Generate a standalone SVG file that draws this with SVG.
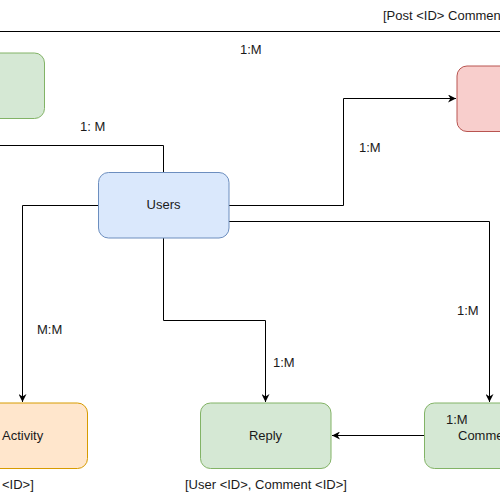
<svg xmlns="http://www.w3.org/2000/svg" width="500" height="500" viewBox="0 0 500 500">
<defs>
<marker id="arr" viewBox="0 0 10 10" refX="10" refY="5" markerWidth="8" markerHeight="8" markerUnits="userSpaceOnUse" orient="auto">
<path d="M0,0 L10,5 L0,10 L3,5 Z" fill="#000"/>
</marker>
<style>
text{font-family:"Liberation Sans",Arial,sans-serif;font-size:13px;fill:#1a1a1a}
.c{text-anchor:middle}
.e{fill:none;stroke:#000;stroke-width:1}
.a{marker-end:url(#arr)}
.g{fill:#d5e8d4;stroke:#82b366}
.b{fill:#dae8fc;stroke:#6c8ebf}
.r{fill:#f8cecc;stroke:#b85450}
.o{fill:#ffe6cc;stroke:#d79b00}
</style>
</defs>
<rect width="500" height="500" fill="#fff"/>
<g id="connectors">
<line class="e" x1="0" y1="31.5" x2="500" y2="31.5"/>
<polyline class="e" points="0,145.5 163.5,145.5 163.5,172"/>
<polyline class="e a" points="98,205.5 22.5,205.5 22.5,402"/>
<polyline class="e a" points="229,205.5 343.5,205.5 343.5,98.5 456,98.5"/>
<polyline class="e a" points="229,221.5 489.5,221.5 489.5,402"/>
<polyline class="e a" points="163.5,238 163.5,320.5 265.5,320.5 265.5,402"/>
<line class="e a" x1="424" y1="435.5" x2="332" y2="435.5"/>
</g>
<g id="labels">
<text x="383" y="20">[Post &lt;ID&gt; Comment &lt;ID&gt;]</text>
<text x="240" y="54">1:M</text>
<text x="80" y="131">1: M</text>
<text x="359" y="152">1:M</text>
<text x="457" y="315">1:M</text>
<text x="37" y="334">M:M</text>
<text x="273" y="367">1:M</text>
<text x="2" y="489">&lt;ID&gt;]</text>
<text x="185" y="489">[User &lt;ID&gt;, Comment &lt;ID&gt;]</text>
</g>
<g id="node-top-green"><rect class="g" x="-86" y="53" width="130.5" height="65.5" rx="10"/></g>
<g id="node-red"><rect class="r" x="457" y="66" width="130" height="65.5" rx="10"/></g>
<g id="node-users"><rect class="b" x="98.5" y="172.5" width="130.5" height="65.5" rx="10"/><text class="c" x="163.5" y="209">Users</text></g>
<g id="node-activity"><rect class="o" x="-43" y="403" width="130.5" height="65.5" rx="10"/><text x="2" y="440">Activity</text></g>
<g id="node-reply"><rect class="g" x="200.5" y="403" width="130.5" height="65.5" rx="10"/><text class="c" x="265.5" y="440">Reply</text></g>
<g id="node-comment"><rect class="g" x="424.5" y="403" width="130.5" height="65.5" rx="10"/><text x="446" y="424">1:M</text><text x="458" y="440">Comment</text></g>
</svg>
